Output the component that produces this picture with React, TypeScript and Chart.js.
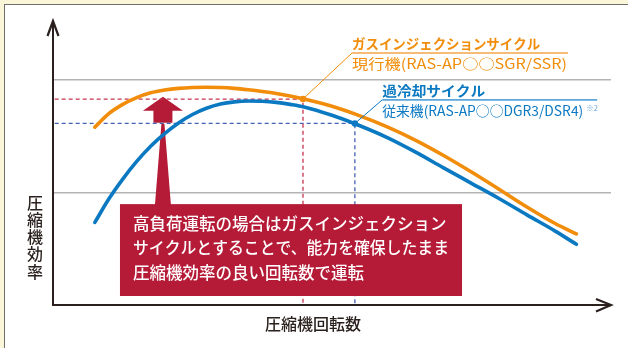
import React, { useEffect, useRef } from 'react';
import { Chart, registerables } from 'chart.js';

Chart.register(...registerables);

// ---- data (compressor speed vs. compressor efficiency, arbitrary units) ----
const rpm = [7.5, 10, 12.5, 15, 17.5, 20, 22.5, 25, 27.5, 30, 32.5, 35, 37.5, 40, 42.5, 45, 50, 55, 60, 65, 70, 75, 80, 85, 90, 93.8];
const gasInjection = [63.3, 68.1, 71.4, 73.8, 75.5, 76.5, 77.1, 77.4, 77.5, 77.4, 77.1, 76.6, 76.0, 75.3, 74.4, 73.3, 70.7, 67.3, 63.3, 58.6, 53.2, 47.3, 41.1, 34.8, 29.0, 25.3];
const subcooling = [29.4, 37.7, 44.8, 51.1, 56.5, 61.0, 64.8, 67.8, 70.0, 71.5, 72.3, 72.6, 72.5, 72.1, 71.4, 70.5, 67.5, 63.8, 59.5, 54.4, 48.8, 43.3, 37.8, 32.0, 26.3, 21.6];
const opRpm = [44.8, 54.1]; // operating points: gas injection, subcooling
const opEff = [73.3, 64.6];
const gridLevels = [40, 80];

const gasTitle = 'ガスインジェクションサイクル';
const gasSub = '現行機(RAS-AP○○SGR/SSR)';
const subTitle = '過冷却サイクル';
const subSub = '従来機(RAS-AP○○DGR3/DSR4)';
const subNote = '※2';
const boxLines = ['高負荷運転の場合はガスインジェクション', 'サイクルとすることで、能力を確保したまま', '圧縮機効率の良い回転数で運転'];
const xTitle = '圧縮機回転数';
const yTitle = '圧縮機効率';

// ---- styles / annotation layout ----
const ORANGE = '#f18d0b';
const ORANGE_LIGHT = '#f3a54a';
const BLUE = '#0b79c2';
const BLUE_LIGHT = '#5ba6da';
const RED = '#b51b37';
const RED_DASH = '#c8334f';
const BLUE_DASH = '#4463b3';
const INK = '#2a201d';
const FONT = '"Noto Sans CJK JP", "Noto Sans", sans-serif';

const gasLabelAnchor = [53.6, 89.7];
const subLabelAnchor = [59.0, 73.0];
const boxRange = [12.0, 73.3, 3.2, 35.9]; // xMin, xMax, yMin, yMax
const arrowTip = [19.7, 74.1];
const xTitlePos = 46.6;

function fitText(ctx: CanvasRenderingContext2D, text: string, x: number, y: number, width: number) {
  const w = ctx.measureText(text).width;
  ctx.save();
  ctx.translate(x, y);
  ctx.scale(width / w, 1);
  ctx.fillText(text, 0, 0);
  ctx.restore();
}

const overlay = {
  id: 'overlay',
  beforeDatasetsDraw(chart: any) {
    const { ctx, scales } = chart;
    const sx = scales.x, sy = scales.y;
    const tx = sx.getPixelForValue(arrowTip[0]);
    const ty = sy.getPixelForValue(arrowTip[1]);
    const boxTop = sy.getPixelForValue(boxRange[3]);
    ctx.save();
    ctx.fillStyle = RED;
    ctx.beginPath();
    ctx.moveTo(tx, ty);
    ctx.lineTo(tx + 20, ty + 14);
    ctx.lineTo(tx + 9.5, ty + 14);
    ctx.lineTo(tx + 9.5, ty + 26);
    ctx.lineTo(tx - 9.5, ty + 26);
    ctx.lineTo(tx - 9.5, ty + 14);
    ctx.lineTo(tx - 20, ty + 14);
    ctx.closePath();
    ctx.fill();
    ctx.beginPath();
    ctx.moveTo(tx - 1.5, ty + 27);
    ctx.lineTo(tx + 1.5, ty + 27);
    ctx.lineTo(tx + 8, boxTop + 1);
    ctx.lineTo(tx - 8, boxTop + 1);
    ctx.closePath();
    ctx.fill();
    ctx.restore();
  },
  afterDatasetsDraw(chart: any) {
    const { ctx, scales, chartArea } = chart;
    const sx = scales.x, sy = scales.y;
    ctx.save();

    // red message box
    const bl = sx.getPixelForValue(boxRange[0]);
    const br = sx.getPixelForValue(boxRange[1]);
    const bb = sy.getPixelForValue(boxRange[2]);
    const bt = sy.getPixelForValue(boxRange[3]);
    ctx.fillStyle = RED;
    ctx.fillRect(bl, bt, br - bl, bb - bt);
    ctx.fillStyle = '#ffffff';
    ctx.font = `500 16.5px ${FONT}`;
    ctx.textBaseline = 'middle';
    ctx.textAlign = 'left';
    boxLines.forEach((line, i) => {
      ctx.fillText(line, bl + 13, bt + 19.5 + i * 24.5, br - bl - 26);
    });

    // axes with open arrowheads
    const L = chartArea.left, B = chartArea.bottom, T = chartArea.top, R = chartArea.right;
    ctx.strokeStyle = INK;
    ctx.lineWidth = 2;
    ctx.lineCap = 'butt';
    ctx.beginPath();
    ctx.moveTo(L, B);
    ctx.lineTo(L, T - 2);
    ctx.moveTo(L - 1, B);
    ctx.lineTo(R, B);
    ctx.stroke();
    ctx.lineWidth = 2.2;
    ctx.beginPath();
    ctx.moveTo(L - 5.5, T + 12);
    ctx.lineTo(L, T - 3);
    ctx.lineTo(L + 5.5, T + 12);
    ctx.moveTo(R - 15, B - 6);
    ctx.lineTo(R, B);
    ctx.lineTo(R - 15, B + 6.5);
    ctx.stroke();

    // axis titles
    ctx.fillStyle = INK;
    ctx.font = `500 16px ${FONT}`;
    ctx.textAlign = 'center';
    ctx.textBaseline = 'middle';
    ctx.fillText(xTitle, sx.getPixelForValue(xTitlePos), B + 18.5);
    Array.from(yTitle).forEach((ch, i) => {
      ctx.fillText(ch, L - 18, 202.5 + i * 17.3);
    });

    // leader lines + labels
    const labels = [
      { anchor: gasLabelAnchor, pt: 0, color: ORANGE, light: ORANGE_LIGHT, title: gasTitle, sub: gasSub, tW: 188, sW: 215, uW: 216, note: '' },
      { anchor: subLabelAnchor, pt: 1, color: BLUE, light: BLUE_LIGHT, title: subTitle, sub: subSub, tW: 103, sW: 201, uW: 215, note: subNote },
    ];
    labels.forEach((lb) => {
      const ax = sx.getPixelForValue(lb.anchor[0]);
      const ay = sy.getPixelForValue(lb.anchor[1]);
      const px = sx.getPixelForValue(opRpm[lb.pt]);
      const py = sy.getPixelForValue(opEff[lb.pt]);
      ctx.strokeStyle = lb.color;
      ctx.lineWidth = 1;
      ctx.beginPath();
      ctx.moveTo(px, py);
      ctx.lineTo(ax, ay);
      ctx.stroke();
      ctx.strokeStyle = lb.light;
      ctx.lineWidth = 1.6;
      ctx.beginPath();
      ctx.moveTo(ax, ay);
      ctx.lineTo(ax + lb.uW, ay);
      ctx.stroke();
      ctx.textAlign = 'left';
      ctx.textBaseline = 'middle';
      ctx.fillStyle = lb.color;
      ctx.font = `bold 14px ${FONT}`;
      fitText(ctx, lb.title, ax, ay - 9, lb.tW);
      ctx.fillStyle = lb.color;
      ctx.font = `14px ${FONT}`;
      fitText(ctx, lb.sub, ax, ay + 10.8, lb.sW);
      if (lb.note) {
        ctx.fillStyle = '#6aa8d8';
        ctx.font = `7.5px ${FONT}`;
        ctx.fillText(lb.note, ax + lb.sW + 3, ay + 8.5);
      }
    });

    ctx.restore();
  },
};

export default function App() {
  const ref = useRef<HTMLCanvasElement | null>(null);

  useEffect(() => {
    document.body.style.margin = '0';
    const canvas = ref.current;
    if (!canvas) return;
    const chart = new Chart(canvas, {
      type: 'line',
      data: {
        datasets: [
          {
            data: opRpm.map((x, i) => ({ x, y: opEff[i] })),
            showLine: false,
            pointRadius: 3.2,
            pointBackgroundColor: [ORANGE, BLUE],
            pointBorderWidth: 0,
            order: 0,
          },
          {
            data: rpm.map((x, i) => ({ x, y: gasInjection[i] })),
            borderColor: ORANGE,
            borderWidth: 3.6,
            borderCapStyle: 'round',
            pointRadius: 0,
            cubicInterpolationMode: 'monotone',
            order: 1,
          },
          {
            data: rpm.map((x, i) => ({ x, y: subcooling[i] })),
            borderColor: BLUE,
            borderWidth: 3.6,
            borderCapStyle: 'round',
            pointRadius: 0,
            cubicInterpolationMode: 'monotone',
            order: 1,
          },
          {
            data: [
              { x: 0.3, y: opEff[0] },
              { x: opRpm[0], y: opEff[0] },
              { x: opRpm[0], y: 0 },
            ],
            borderColor: RED_DASH,
            borderWidth: 1.3,
            borderDash: [4, 3],
            pointRadius: 0,
            tension: 0,
            order: 2,
          },
          {
            data: [
              { x: 0.3, y: opEff[1] },
              { x: opRpm[1], y: opEff[1] },
              { x: opRpm[1], y: 0 },
            ],
            borderColor: BLUE_DASH,
            borderWidth: 1.3,
            borderDash: [4, 3],
            pointRadius: 0,
            tension: 0,
            order: 2,
          },
        ],
      },
      options: {
        responsive: false,
        animation: false,
        events: [],
        layout: { padding: { left: 53, right: 17, top: 24, bottom: 43 } },
        plugins: { legend: { display: false }, tooltip: { enabled: false }, title: { display: false } },
        scales: {
          x: { type: 'linear', min: 0, max: 100, display: false },
          y: {
            type: 'linear',
            min: 0,
            max: 100,
            display: true,
            ticks: { display: false },
            border: { display: false },
            grid: { drawTicks: false, color: '#b4b4b4', lineWidth: 1.6 },
            afterBuildTicks: (scale: any) => {
              scale.ticks = gridLevels.map((v) => ({ value: v }));
            },
          },
        },
      },
      plugins: [overlay],
    } as any);
    return () => chart.destroy();
  }, []);

  return (
    <div style={{ position: 'relative', width: 628, height: 348, background: '#fcf6d8', overflow: 'hidden' }}>
      <div
        style={{
          position: 'absolute',
          left: 4,
          top: 4,
          width: 640,
          height: 360,
          background: '#ffffff',
          borderLeft: '1px solid #6e6e6e',
          borderTop: '1px solid #6e6e6e',
        }}
      />
      <canvas ref={ref} width={628} height={348} style={{ position: 'absolute', left: 0, top: 0, width: 628, height: 348 }} />
    </div>
  );
}
